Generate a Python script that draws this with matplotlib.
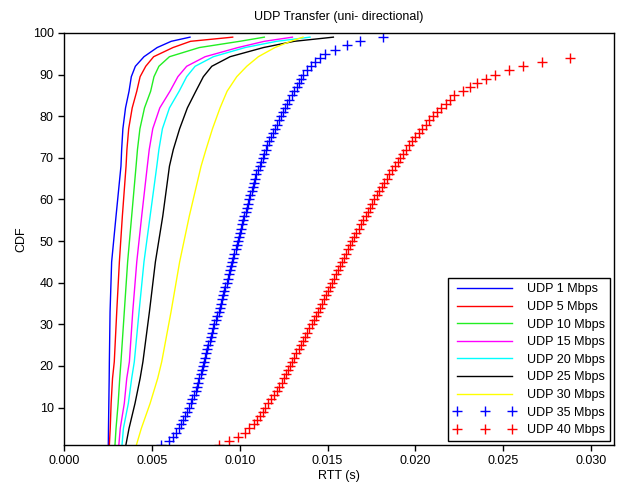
import numpy as np
import matplotlib
matplotlib.use('Agg')
import matplotlib.pyplot as plt

# CDF levels (%) at which the line curves were read
levels = [1, 5, 11, 17, 21, 33, 45, 56, 68, 72, 77, 82, 86, 89.5, 92, 94.3, 96.5, 98, 99]

rtt_1 = [0.00252, 0.00253, 0.00255, 0.00257, 0.00258, 0.00262, 0.00271, 0.00296, 0.00324,
         0.00328, 0.00335, 0.0035, 0.0037, 0.00383, 0.00406, 0.00455, 0.0053, 0.0061, 0.00717]
rtt_5 = [0.00258, 0.00263, 0.00268, 0.00276, 0.00286, 0.003, 0.00315, 0.00332, 0.00353,
         0.00358, 0.00368, 0.00388, 0.00414, 0.00433, 0.00465, 0.0051, 0.0062, 0.0072, 0.0096]
rtt_10 = [0.0029, 0.00296, 0.00308, 0.00317, 0.00324, 0.00343, 0.00362, 0.00385, 0.0041,
          0.00418, 0.00432, 0.00458, 0.00493, 0.00512, 0.0054, 0.006, 0.0077, 0.0100, 0.0114]
rtt_15 = [0.00312, 0.0032, 0.00343, 0.00357, 0.00372, 0.00391, 0.00414, 0.00442, 0.00474,
          0.00485, 0.00505, 0.00545, 0.00603, 0.00648, 0.00698, 0.00803, 0.0099, 0.0114, 0.0130]
rtt_20 = [0.0033, 0.00338, 0.00366, 0.00385, 0.004, 0.00427, 0.00455, 0.0049, 0.00528,
          0.0054, 0.0056, 0.006, 0.00655, 0.00698, 0.00746, 0.0085, 0.0103, 0.0121, 0.0140]
rtt_25 = [0.00352, 0.0037, 0.00404, 0.00433, 0.00449, 0.00486, 0.0052, 0.00562, 0.006,
          0.00622, 0.00658, 0.00702, 0.0075, 0.00793, 0.00841, 0.00945, 0.01135, 0.0131, 0.01533]
rtt_30 = [0.00412, 0.0044, 0.0049, 0.00533, 0.00556, 0.00609, 0.00658, 0.00713, 0.0078,
          0.00808, 0.00845, 0.00888, 0.00928, 0.00983, 0.0104, 0.01106, 0.0120, 0.0129, 0.0136]

# marker series: one value per CDF percent
rtt_35 = [0.00550, 0.00595, 0.00620, 0.00638, 0.00652, 0.00664, 0.00676, 0.00689, 0.00701, 0.00712,
          0.00722, 0.00731, 0.00740, 0.00749, 0.00757, 0.00764, 0.00771, 0.00778, 0.00785, 0.00791,
          0.00797, 0.00803, 0.00809, 0.00815, 0.00821, 0.00828, 0.00835, 0.00842, 0.00849, 0.00856,
          0.00864, 0.00872, 0.00880, 0.00888, 0.00895, 0.00901, 0.00907, 0.00913, 0.00919, 0.00925,
          0.00931, 0.00937, 0.00943, 0.00950, 0.00957, 0.00963, 0.00969, 0.00976, 0.00982, 0.00989,
          0.00995, 0.01001, 0.01007, 0.01013, 0.01020, 0.01027, 0.01034, 0.01041, 0.01048, 0.01055,
          0.01061, 0.01067, 0.01073, 0.01080, 0.01087, 0.01095, 0.01104, 0.01113, 0.01122, 0.01131,
          0.01140, 0.01149, 0.01158, 0.01168, 0.01178, 0.01189, 0.01200, 0.01211, 0.01223, 0.01235,
          0.01247, 0.01259, 0.01271, 0.01283, 0.01296, 0.01310, 0.01324, 0.01338, 0.01350, 0.01362,
          0.01381, 0.01405, 0.01430, 0.01455, 0.01485, 0.01540, 0.01609, 0.01685, 0.01814]
rtt_40 = [0.0088, 0.0094, 0.0099, 0.0103, 0.0105, 0.0108, 0.0110, 0.01118, 0.01131, 0.01144,
          0.01162, 0.01178, 0.01194, 0.01210, 0.01226, 0.01238, 0.01250, 0.01262, 0.01275, 0.01287,
          0.01299, 0.01311, 0.01323, 0.01335, 0.01347, 0.01360, 0.01372, 0.01385, 0.01397, 0.01410,
          0.01421, 0.01433, 0.01444, 0.01456, 0.01467, 0.01478, 0.01490, 0.01501, 0.01513, 0.01524,
          0.01535, 0.01546, 0.01557, 0.01568, 0.01580, 0.01592, 0.01604, 0.01616, 0.01627, 0.01638,
          0.01651, 0.01664, 0.01677, 0.01691, 0.01704, 0.01717, 0.01729, 0.01742, 0.01754, 0.01767,
          0.01781, 0.01795, 0.01809, 0.01823, 0.01837, 0.01852, 0.01867, 0.01882, 0.01898, 0.01913,
          0.01930, 0.01947, 0.01964, 0.01981, 0.01998, 0.02018, 0.02038, 0.02059, 0.02080, 0.02102,
          0.02125, 0.02148, 0.02172, 0.02197, 0.02222, 0.0227, 0.0231, 0.0235, 0.0240, 0.0245,
          0.0253, 0.0261, 0.0272, 0.0288]

line_series = [('UDP 1 Mbps', rtt_1, '#0000ff'),
               ('UDP 5 Mbps', rtt_5, '#ff0000'),
               ('UDP 10 Mbps', rtt_10, '#22ee22'),
               ('UDP 15 Mbps', rtt_15, '#ff00ff'),
               ('UDP 20 Mbps', rtt_20, '#00ffff'),
               ('UDP 25 Mbps', rtt_25, '#000000'),
               ('UDP 30 Mbps', rtt_30, '#ffff00')]
marker_series = [('UDP 35 Mbps', rtt_35, '#0000ff'),
                 ('UDP 40 Mbps', rtt_40, '#ff0000')]

plt.rcParams['font.family'] = ['Liberation Sans', 'DejaVu Sans']
plt.rcParams['font.size'] = 9

fig = plt.figure(figsize=(6.18, 4.88), dpi=100)
ax = fig.add_axes([0.1036, 0.0881, 0.8899, 0.8443])

for name, vals, col in line_series:
    ax.plot(vals, levels, color=col, lw=1, label=name)
for name, vals, col in marker_series:
    cdf = np.arange(1, len(vals) + 1)
    ax.plot(vals, cdf, ls='none', marker='+', ms=7, mew=1, color=col, label=name)

ax.set_xlim(0, 0.0313)
ax.set_ylim(1, 100)
ax.set_xticks(np.arange(0, 0.031, 0.005))
ax.set_xticklabels(['%.3f' % v for v in np.arange(0, 0.031, 0.005)])
ax.set_yticks(range(10, 101, 10))
ax.tick_params(direction='out', length=4, width=1, top=False, right=False)
for s in ax.spines.values():
    s.set_linewidth(1)

ax.set_title('UDP Transfer (uni- directional)', fontsize=9, pad=9)
ax.set_xlabel('RTT (s)', fontsize=9, labelpad=2)
ax.set_ylabel('CDF', fontsize=9, labelpad=4)

leg = ax.legend(loc='lower right', numpoints=3, handlelength=5.0, fancybox=False,
                edgecolor='black', framealpha=1, borderaxespad=0.3, labelspacing=0.45,
                handletextpad=0.9, fontsize=9)
leg.get_frame().set_linewidth(1)

fig.savefig('out.png', dpi=100)
